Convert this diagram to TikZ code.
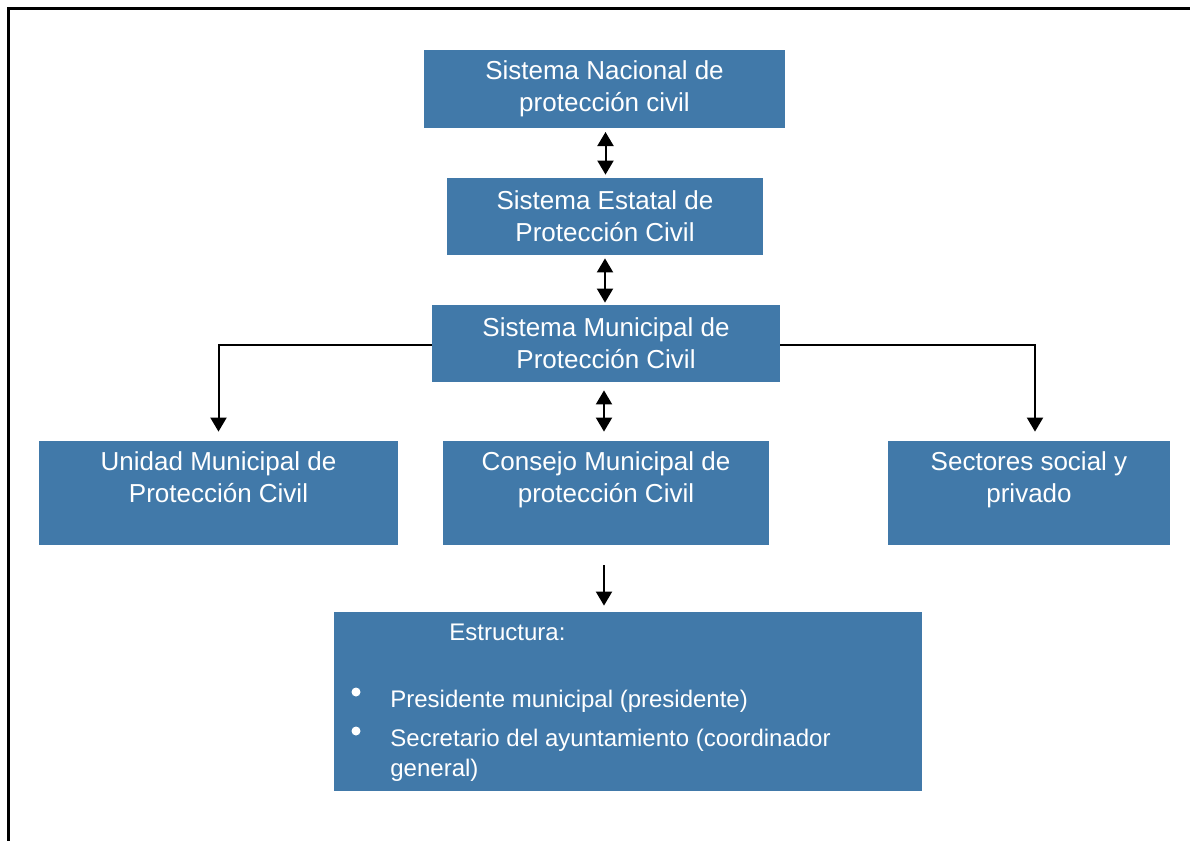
\documentclass[tikz,border=0pt]{standalone}
\usepackage{fontspec}
\setmainfont{Liberation Sans}
\usetikzlibrary{arrows.meta}
\definecolor{boxblue}{RGB}{65,121,169}
\tikzset{
  box/.style={fill=boxblue, draw=none, text=white, align=center, inner sep=0pt,
    font=\fontsize{13}{16}\selectfont},
  conn/.style={line width=1pt, black},
  tip/.style={-{Triangle[width=8pt,length=7pt]}},
  dtip/.style={{Triangle[width=8pt,length=7pt]}-{Triangle[width=8pt,length=7pt]}},
  itemtext/.style={text=white, anchor=west, inner sep=0pt, align=left,
    font=\fontsize{12}{15}\selectfont},
  dot/.style={circle, fill=white, draw=none, inner sep=0pt, minimum size=4.5pt}
}
\begin{document}
\begin{tikzpicture}[x=0.5pt,y=-0.5pt]
\useasboundingbox (0,0) rectangle (1190,841);
% frame
\draw[line width=1.5pt] (8,850) -- (8,8) -- (1200,8);
% boxes
\node[box, minimum width=180.5pt, minimum height=39pt] (nac) at (604.5,89) {Sistema Nacional de\\protección civil};
\node[box, minimum width=158pt, minimum height=38.5pt] (est) at (605,216.5) {Sistema Estatal de\\Protección Civil};
\node[box, minimum width=174pt, minimum height=38.5pt] (mun) at (606,343.5) {Sistema Municipal de\\Protección Civil};
\node[box, minimum width=179.5pt, minimum height=52pt] (uni) at (218.5,493) {Unidad Municipal de\\Protección Civil\\~};
\node[box, minimum width=163pt, minimum height=52pt] (con) at (606,493) {Consejo Municipal de\\protección Civil\\~};
\node[box, minimum width=141pt, minimum height=52pt] (sec) at (1029,493) {Sectores social y\\privado\\~};
\node[box, minimum width=294pt, minimum height=89.5pt] (estr) at (628,701.5) {};
% structure contents
\node[itemtext] (e0) at (449,632) {Estructura:};
\node[dot] (b1) at (356,692) {};
\node[itemtext] (e1) at (390,701) {Presidente municipal (presidente)};
\node[dot] (b2) at (356,731) {};
\node[itemtext, anchor=north west] (e2) at (390,729) {Secretario del ayuntamiento (coordinador\\general)};
% connectors
\draw[conn, dtip, shorten <=1.8pt, shorten >=1.5pt] ([xshift=0.5pt]nac.south) -- ([xshift=0.5pt]nac.south |- est.north);
\draw[conn, dtip, shorten <=1.5pt, shorten >=1pt] (est.south) -- (est.south |- mun.north);
\draw[conn, dtip, shorten <=4pt, shorten >=4.5pt] ([xshift=-1pt]mun.south) -- ([xshift=-1pt]mun.south |- con.north);
\draw[conn, tip, shorten <=10pt, shorten >=3pt] ([xshift=-1pt]con.south) -- ([xshift=-1pt]con.south |- estr.north);
\draw[conn, tip, shorten >=4.5pt] ([yshift=-0.75pt]mun.west) -| (uni.north);
\draw[conn, tip, shorten >=4.5pt] ([yshift=-0.75pt]mun.east) -| ([xshift=3pt]sec.north);
\end{tikzpicture}
\end{document}
